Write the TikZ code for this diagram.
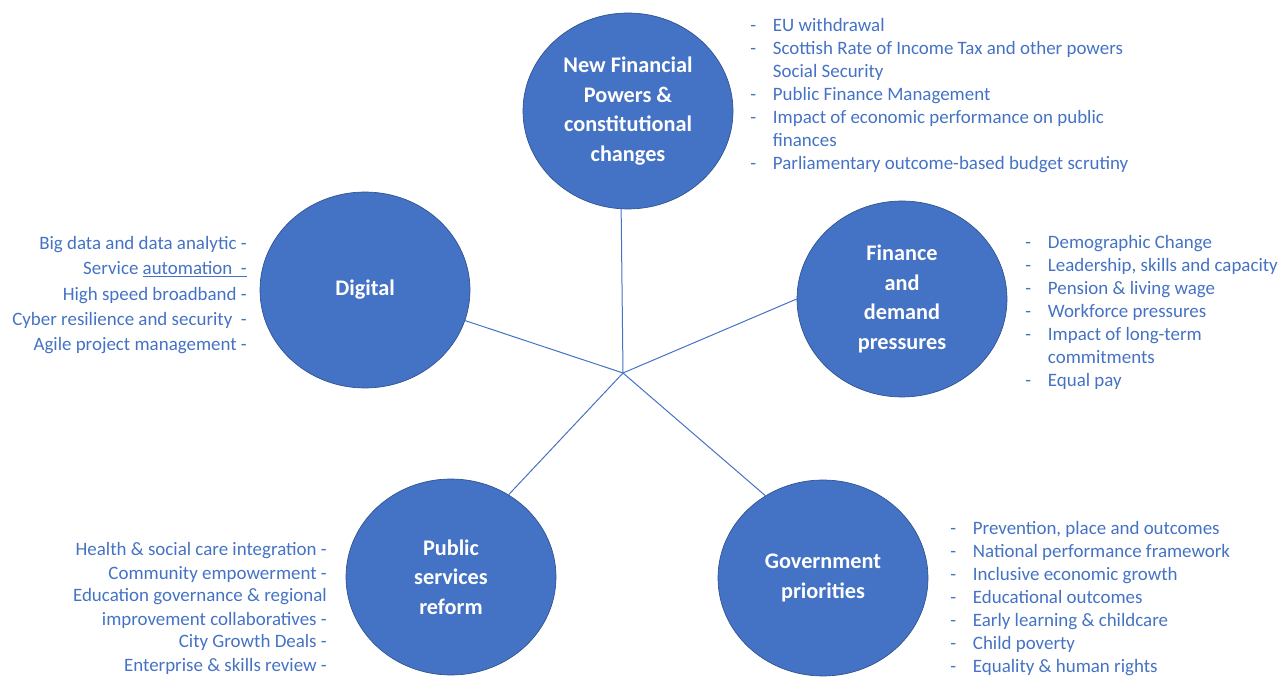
\documentclass[tikz,border=0pt]{standalone}
\usepackage{fontspec}
\setmainfont{Carlito}
\usetikzlibrary{shapes.geometric}
\definecolor{office}{HTML}{4472C4}
\definecolor{officedark}{HTML}{2F528F}
\newcommand{\ldash}{\makebox[17pt][l]{-}}
\newcommand{\lgap}{\hspace*{17pt}}

\begin{document}
\begin{tikzpicture}[x=0.75pt,y=-0.75pt,
  topic/.style={ellipse,fill=office,draw=officedark,line width=0.5pt,minimum width=157.5pt,minimum height=147pt,inner sep=0pt,text=white,align=center,font=\fontsize{16.7}{22.1}\selectfont\bfseries},
  items/.style={text=office,inner sep=0pt,font=\fontsize{14.2}{17.25}\selectfont},
  spoke/.style={draw=office,line width=0.75pt}]
  \useasboundingbox (0,0) rectangle (1282,680);
  \coordinate (hub) at (623,373);
  \node[topic] (nf) at (628,111) {New Financial\\Powers \&\\constitutional\\changes};
  \node[topic] (dig) at (365,290) {Digital};
  \node[topic] (fin) at (902,299) {Finance\\and\\demand\\pressures};
  \node[topic] (pub) at (451,577) {Public\\services\\reform};
  \node[topic] (gov) at (823,578) {Government\\priorities};
  \path[spoke]
    (hub) edge (nf.266)
    (hub) edge (dig.-17)
    (hub) edge (fin.west)
    (hub) edge (pub.55)
    (hub) edge (gov.125);
  \node[items,align=left,anchor=base west] (nflist) at (750,170) {\ldash EU withdrawal\\
    \ldash Scottish Rate of Income Tax and other powers\\
    \lgap Social Security\\
    \ldash Public Finance Management\\
    \ldash Impact of economic performance on public\\
    \lgap finances\\
    \ldash Parliamentary outcome-based budget scrutiny};
  \node[items,align=right,anchor=base east,font=\fontsize{14.2}{19.1}\selectfont] (diglist) at (247,351) {Big data and data analytic -\\
    Service \underline{automation\ \ -}\\
    High speed broadband -\\
    Cyber resilience and security\ \ -\\
    Agile project management -};
  \node[items,align=left,anchor=base west] (finlist) at (1025,387) {\ldash Demographic Change\\
    \ldash Leadership, skills and capacity\\
    \ldash Pension \& living wage\\
    \ldash Workforce pressures\\
    \ldash Impact of long-term\\
    \lgap commitments\\
    \ldash Equal pay};
  \node[items,align=right,anchor=base east] (publist) at (327,671) {Health \& social care integration -\\
    Community empowerment -\\
    Education governance \& regional\\
    improvement collaboratives -\\
    City Growth Deals -\\
    Enterprise \& skills review -};
  \node[items,align=left,anchor=base west] (govlist) at (950,672) {\ldash Prevention, place and outcomes\\
    \ldash National performance framework\\
    \ldash Inclusive economic growth\\
    \ldash Educational outcomes\\
    \ldash Early learning \& childcare\\
    \ldash Child poverty\\
    \ldash Equality \& human rights};
\end{tikzpicture}
\end{document}
